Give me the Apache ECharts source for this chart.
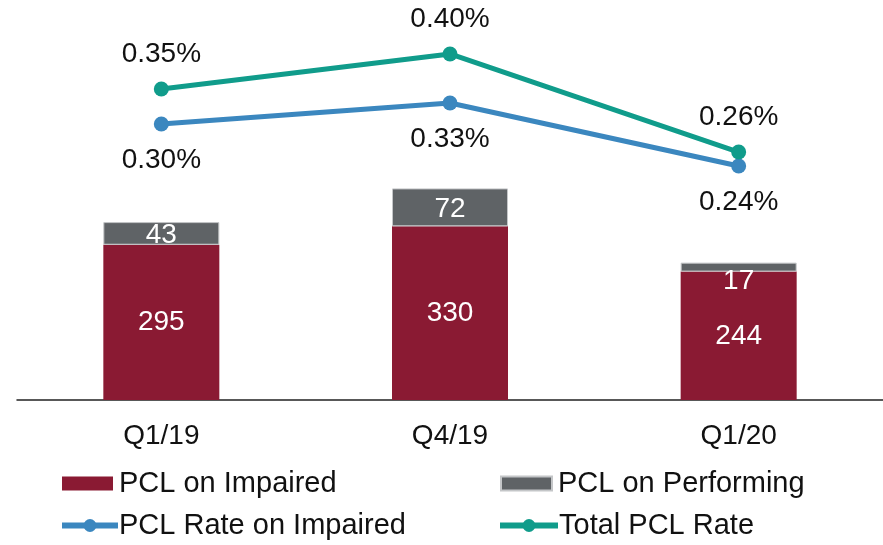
<!DOCTYPE html>
<html>
<head>
<meta charset="utf-8">
<script src="https://cdn.jsdelivr.net/npm/echarts@6/dist/echarts.min.js"></script>
<style>
  html, body { margin: 0; padding: 0; background: #fff; }
  #pclChart { width: 883px; height: 545px; }
</style>
</head>
<body>
<div id="pclChart"></div>
<script>
var categories = ['Q1/19', 'Q4/19', 'Q1/20']
var pclImpaired = [295, 330, 244]
var pclPerforming = [43, 72, 17]
var rateImpaired = [0.30, 0.33, 0.24]
var rateTotal = [0.35, 0.40, 0.26]

var fontFamily = '"Liberation Sans", Arial, sans-serif'
var red = '#8a1a33'
var grey = '#5f6366'
var blue = '#3b87bf'
var teal = '#109c8b'

var chartDom = document.getElementById('pclChart')
var myChart = echarts.init(chartDom)

function pct(p) {
  return p.value.toFixed(2) + '%'
}

function legendAt(name, left, top, width, icon) {
  var lg = {
    data: [name],
    left: left,
    top: top,
    itemWidth: width,
    itemHeight: 14,
    itemGap: 0,
    padding: 0,
    textStyle: { fontSize: 29, color: '#111', fontFamily: fontFamily, padding: [0, 0, 0, 1] }
  }
  if (icon) {
    lg.icon = icon
  } else {
    // line + dot icons: a bit thicker, text pulled closer
    lg.itemHeight = 16
    lg.lineStyle = { width: 6 }
    lg.textStyle.padding = [0, 0, 0, -4]
  }
  return lg
}

var option = {
  animation: false,
  textStyle: { fontFamily: fontFamily },
  grid: { left: 17, right: 0, top: 0, bottom: 145 },
  legend: [
    legendAt('PCL on Impaired', 62, 469, 51, 'rect'),
    legendAt('PCL on Performing', 500, 469, 51, 'rect'),
    legendAt('PCL Rate on Impaired', 59, 511, 56),
    legendAt('Total PCL Rate', 497, 511, 58)
  ],
  xAxis: {
    type: 'category',
    data: categories,
    axisTick: { show: false },
    axisLine: { lineStyle: { color: '#222', width: 1.5 } },
    axisLabel: { fontSize: 28, color: '#111', margin: 22 }
  },
  yAxis: [
    { type: 'value', min: 0, max: 760, show: false },
    // rate axis, hidden; range set so the lines sit above the bars
    { type: 'value', min: -0.094, max: 0.477, show: false }
  ],
  series: [
    {
      name: 'PCL on Impaired',
      type: 'bar',
      stack: 'pcl',
      barWidth: 116,
      data: pclImpaired,
      itemStyle: { color: red },
      label: { show: true, position: 'inside', color: '#fff', fontSize: 28 }
    },
    {
      name: 'PCL on Performing',
      type: 'bar',
      stack: 'pcl',
      barWidth: 116,
      data: pclPerforming,
      itemStyle: { color: grey, borderColor: '#c4c6c8', borderWidth: 1 },
      label: { show: true, position: 'inside', color: '#fff', fontSize: 28 },
      labelLayout: function (params) {
        // small segment: label drops onto the red bar
        if (params.dataIndex === 2) {
          return { dy: 14 }
        }
        return { dy: 2 }
      }
    },
    {
      name: 'PCL Rate on Impaired',
      type: 'line',
      yAxisIndex: 1,
      data: rateImpaired,
      symbol: 'circle',
      symbolSize: 15,
      lineStyle: { color: blue, width: 5 },
      itemStyle: { color: blue },
      label: { show: true, position: 'bottom', distance: 15, fontSize: 28, color: '#111', formatter: pct }
    },
    {
      name: 'Total PCL Rate',
      type: 'line',
      yAxisIndex: 1,
      data: rateTotal,
      symbol: 'circle',
      symbolSize: 15,
      lineStyle: { color: teal, width: 5 },
      itemStyle: { color: teal },
      label: { show: true, position: 'top', distance: 13, fontSize: 28, color: '#111', formatter: pct }
    }
  ]
}

option && myChart.setOption(option)
</script>
</body>
</html>
